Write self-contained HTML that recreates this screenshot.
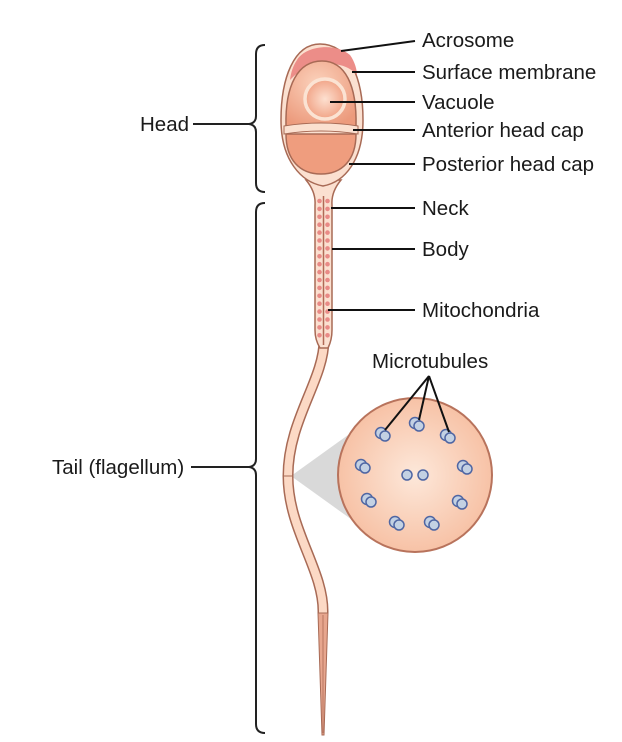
<!DOCTYPE html>
<html><head><meta charset="utf-8"><style>
html,body{margin:0;padding:0;background:#fff;}
svg{display:block;}
text{font-family:"Liberation Sans",sans-serif;font-size:20.5px;fill:#1a1a1a;}
</style></head><body>
<svg width="622" height="742" viewBox="0 0 622 742" xmlns="http://www.w3.org/2000/svg">
<defs>
<radialGradient id="hg" cx="0.45" cy="0.35" r="0.7">
<stop offset="0" stop-color="#fbd2bc"/><stop offset="1" stop-color="#ec9a7c"/></radialGradient>
<radialGradient id="vg" cx="0.5" cy="0.5" r="0.5">
<stop offset="0" stop-color="#fde0d0"/><stop offset="1" stop-color="#f1a487"/></radialGradient>
<radialGradient id="cg" cx="0.5" cy="0.5" r="0.5">
<stop offset="0" stop-color="#fde8da"/><stop offset="1" stop-color="#f7c2a6"/></radialGradient>
<g id="mt"><circle cx="-2" cy="-1" r="5.5" fill="#c3d1e3" stroke="#4f66a3" stroke-width="1.5"/><circle cx="2" cy="2" r="5" fill="#c3d1e3" stroke="#4f66a3" stroke-width="1.5"/></g>
</defs>

<path d="M265,45 Q256,45 256,54 L256,116 Q256,123 249,124 Q256,125 256,132 L256,183 Q256,192 265,192" fill="none" stroke="#222" stroke-width="2"/>
<path d="M265,203 Q256,203 256,212 L256,459 Q256,466 249,467 Q256,468 256,475 L256,724 Q256,733 265,733" fill="none" stroke="#222" stroke-width="2"/>
<line x1="193" y1="124" x2="250" y2="124" stroke="#222" stroke-width="2"/>
<line x1="191" y1="467" x2="250" y2="467" stroke="#222" stroke-width="2"/>
<text x="140" y="131">Head</text>
<text x="52" y="474">Tail (flagellum)</text>

<polygon points="291,476 355,430 355,522" fill="#d9d9d9"/>

<path d="M324,340 C324,380 288,420 288,476 C288,530 324,570 323,613" fill="none" stroke="#a86a55" stroke-width="11"/>
<path d="M324,340 C324,380 288,420 288,476 C288,530 324,570 323,613" fill="none" stroke="#fcd9c5" stroke-width="8"/>
<line x1="284" y1="476" x2="292" y2="476" stroke="#a86a55" stroke-width="1"/>
<polygon points="318,613 328,613 324,735 322,735" fill="#e7a68e" stroke="#a86a55" stroke-width="1"/>
<line x1="323" y1="615" x2="323" y2="733" stroke="#b87560" stroke-width="1"/>

<path d="M306,180 Q316,192 315,205 L315,330 Q315,340 320,348 L328,348 Q332,340 332,330 L332,205 Q331,192 341,180 Z" fill="#fbe0d0" stroke="#a86a55" stroke-width="1.5"/>
<line x1="323.5" y1="196" x2="323.5" y2="345" stroke="#b06a55" stroke-width="1.5"/>
<g fill="#e98a86">
<circle cx="318" cy="183" r="2"/><circle cx="323.5" cy="183" r="2"/><circle cx="329" cy="183" r="2"/>
</g>
<g fill="#e98a86" id="dots"></g>

<path d="M320,44 C350,44 363,80 363,120 C363,160 345,182 323,186 C301,182 281,160 281,120 C281,78 294,44 320,44 Z" fill="#fbe0d0" stroke="#a86a55" stroke-width="1.5"/>
<path d="M297,60 C305,46 335,42 350,55 C355,62 357,70 357,75 C345,60 310,58 290,80 C291,72 293,66 297,60 Z" fill="#ec8d88"/>
<path d="M322,61 C345,61 357,85 356,126 L286,126 C285,85 298,61 322,61 Z" fill="url(#hg)" stroke="#a86a55" stroke-width="1.5"/>
<path d="M286,134 L356,134 C356,160 342,174 321,174 C300,174 286,160 286,134 Z" fill="#ef9d7e" stroke="#a86a55" stroke-width="1.5"/>
<path d="M284,126 Q321,120 358,126 L358,134 Q321,128 284,134 Z" fill="#fbe0d0" stroke="#a86a55" stroke-width="1"/>
<circle cx="325" cy="99" r="20" fill="url(#vg)" stroke="#fbe3d3" stroke-width="3.5"/>

<circle cx="415" cy="475" r="77" fill="url(#cg)" stroke="#b8735c" stroke-width="2"/>
<use href="#mt" x="383" y="434"/>
<use href="#mt" x="417" y="424"/>
<use href="#mt" x="448" y="436"/>
<use href="#mt" x="465" y="467"/>
<use href="#mt" x="363" y="466"/>
<use href="#mt" x="369" y="500"/>
<use href="#mt" x="460" y="502"/>
<use href="#mt" x="397" y="523"/>
<use href="#mt" x="432" y="523"/>
<circle cx="407" cy="475" r="5" fill="#c3d1e3" stroke="#4f66a3" stroke-width="1.5"/>
<circle cx="423" cy="475" r="5" fill="#c3d1e3" stroke="#4f66a3" stroke-width="1.5"/>
<g stroke="#111" stroke-width="2">
<line x1="429" y1="376" x2="385" y2="430"/>
<line x1="429" y1="376" x2="419" y2="420"/>
<line x1="429" y1="376" x2="449" y2="432"/>
</g>
<text x="372" y="368">Microtubules</text>

<g stroke="#111" stroke-width="2">
<line x1="341" y1="51" x2="415" y2="41"/>
<line x1="352" y1="72" x2="415" y2="72"/>
<line x1="330" y1="102" x2="415" y2="102"/>
<line x1="353" y1="130" x2="415" y2="130"/>
<line x1="349" y1="164" x2="415" y2="164"/>
<line x1="331" y1="208" x2="415" y2="208"/>
<line x1="332" y1="249" x2="415" y2="249"/>
<line x1="328" y1="310" x2="415" y2="310"/>
</g>
<text x="422" y="47">Acrosome</text>
<text x="422" y="79">Surface membrane</text>
<text x="422" y="109">Vacuole</text>
<text x="422" y="137">Anterior head cap</text>
<text x="422" y="171">Posterior head cap</text>
<text x="422" y="215">Neck</text>
<text x="422" y="256">Body</text>
<text x="422" y="317">Mitochondria</text>
</svg>
<script>
var g=document.getElementById('dots'),s='';
for(var y=201;y<=336;y+=7.9){s+='<circle cx="319.5" cy="'+y+'" r="2.3"/><circle cx="327.5" cy="'+y+'" r="2.3"/>';}
g.innerHTML=s;
</script>
</body></html>
